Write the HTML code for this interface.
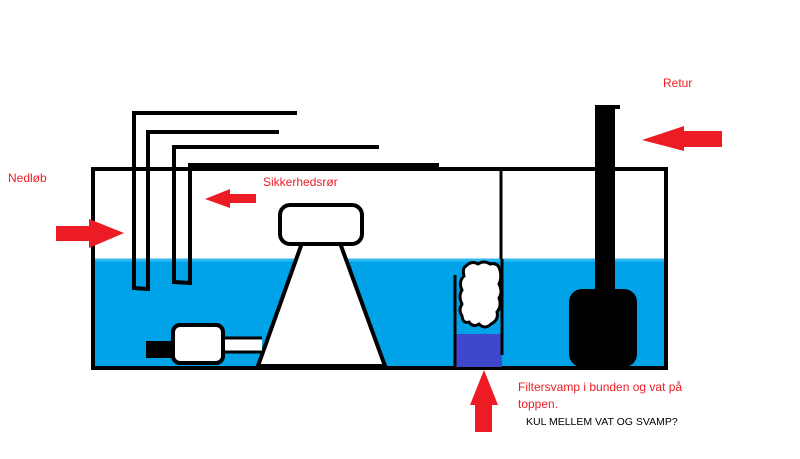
<!DOCTYPE html>
<html><head><meta charset="utf-8"><style>
html,body{margin:0;padding:0;background:#fff;width:800px;height:459px;overflow:hidden}
svg{display:block}
text{font-family:"Liberation Sans",sans-serif}
</style></head><body>
<svg width="800" height="459" viewBox="0 0 800 459" xmlns="http://www.w3.org/2000/svg">
<rect x="0" y="0" width="800" height="459" fill="#fff"/>
<!-- water -->
<rect x="94" y="259" width="572" height="108" fill="#00a2e8"/>
<line x1="94" y1="260" x2="666" y2="260" stroke="#2fb8f0" stroke-width="3"/>
<!-- tank -->
<rect x="93" y="169" width="573" height="199" fill="none" stroke="#000" stroke-width="4"/>
<line x1="501" y1="169" x2="501" y2="259" stroke="#000" stroke-width="3"/>
<!-- pipes -->
<g stroke="#000" stroke-width="4" fill="none" stroke-linecap="square">
<polyline points="295,113 134,113 134,288 148,289 148,132 277,132"/>
<polyline points="377,147 174,147 174,282 190,283 190,165 437,165"/>
</g>
<line x1="190" y1="166" x2="437" y2="166" stroke="#000" stroke-width="6"/>
<!-- skimmer -->
<polygon points="302,243 340,243 385,366 258,366" fill="#fff" stroke="#000" stroke-width="4"/>
<rect x="280" y="205" width="82" height="39" rx="10" fill="#fff" stroke="#000" stroke-width="4"/>
<!-- pump -->
<rect x="222" y="338" width="40" height="14" fill="#fff"/>
<line x1="222" y1="338" x2="262" y2="338" stroke="#000" stroke-width="3"/>
<line x1="222" y1="352" x2="262" y2="352" stroke="#000" stroke-width="3"/>
<rect x="146" y="341" width="27" height="17" fill="#000"/>
<rect x="173" y="325" width="50" height="38" rx="7" fill="#fff" stroke="#000" stroke-width="4"/>
<!-- filter -->
<rect x="456" y="334" width="46" height="33" fill="#3f48cc"/>
<path d="M466,266 q6,-6 12,-2 q6,-4 12,0 q8,-2 10,6 q2,8 -1,14 q4,8 0,14 q3,8 -2,14 q2,8 -6,12 q-6,6 -12,0 q-6,4 -10,-2 q-6,2 -7,-6 q-4,-6 0,-12 q-4,-8 0,-14 q-4,-8 2,-14 q-2,-8 2,-10z" fill="#fff" stroke="#000" stroke-width="3"/>
<line x1="455" y1="275" x2="455" y2="367" stroke="#000" stroke-width="3"/>
<line x1="502" y1="259" x2="502" y2="355" stroke="#000" stroke-width="3"/>
<!-- return pump -->
<rect x="595" y="106" width="20" height="190" fill="#000"/>
<rect x="595" y="105" width="25" height="4" fill="#000"/>
<rect x="569" y="289" width="68" height="78" rx="13" fill="#000"/>
<!-- arrows -->
<g fill="#ed1c24">
<polygon points="56,226 89,226 89,219 124,233 89,248 89,241 56,241"/>
<polygon points="256,194 230,194 230,189 205,199 230,208 230,203 256,203"/>
<polygon points="722,131 684,131 684,126 642,140 684,151 684,147 722,147"/>
<polygon points="475,432 475,405 470,405 484,370 498,405 492,405 492,432"/>
</g>
<!-- labels -->
<g fill="#ed1c24" font-size="12">
<text x="8" y="182">Nedløb</text>
<text x="263" y="186">Sikkerhedsrør</text>
<text x="663" y="87">Retur</text>
<text x="518" y="391">Filtersvamp i bunden og vat på</text>
<text x="518" y="408">toppen.</text>
</g>
<text x="526" y="425" font-size="10.5" fill="#000">KUL MELLEM VAT OG SVAMP?</text>
</svg>
</body></html>
